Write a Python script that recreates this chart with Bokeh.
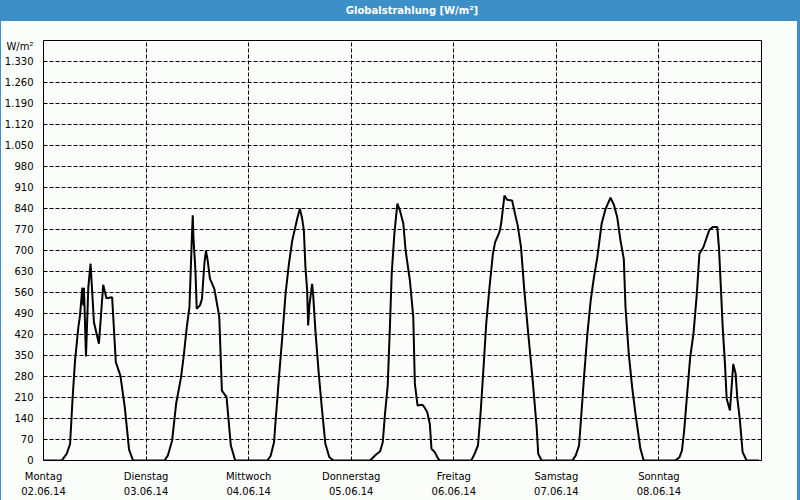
from bokeh.plotting import figure
from bokeh.models import FixedTicker, Range1d, Div
from bokeh.layouts import column, row
from bokeh.embed import file_html
from bokeh.resources import INLINE

# ---- data: hours since Monday 02.06.14 00:00 and global irradiance in W/m2 ----
mon_t = [0, 4.26, 5.42, 6.22, 6.82, 7.38, 8.15, 8.54, 9.08, 9.31, 9.47, 9.94, 10.48, 11.01, 11.24,
         11.80, 12.97, 13.97, 14.73, 16.06, 16.92, 17.99, 19.02, 20.02, 20.95]
mon_v = [0, 0, 22, 55, 211, 333, 444, 483, 576, 517, 576, 347, 576, 656, 600,
         461, 389, 586, 541, 544, 328, 283, 178, 36, 0]

tue_t = [28.33, 29.10, 30.10, 31.03, 32.19, 32.82, 33.52, 34.15, 34.75, 34.92, 35.08, 35.55, 35.85,
         36.62, 37.08, 37.64, 38.01, 38.41, 38.94, 39.97, 40.74, 41.13, 41.74, 42.83, 43.83, 44.86]
tue_v = [0, 17, 67, 189, 278, 350, 444, 511, 756, 817, 744, 633, 506,
         517, 539, 656, 700, 667, 606, 572, 511, 478, 233, 211, 50, 0]

wed_t = [52.38, 53.14, 53.94, 54.31, 55.10, 55.87, 56.64, 57.43, 58.20, 59.36, 59.99, 60.52, 60.92,
         61.29, 61.69, 61.92, 62.22, 62.46, 62.85, 63.08, 63.62, 64.41, 65.18, 65.95, 66.88, 67.90]
wed_v = [0, 15, 61, 133, 278, 411, 556, 656, 733, 806, 839, 806, 767,
         644, 567, 450, 517, 544, 589, 556, 433, 289, 167, 56, 11, 0]

thu_t = [76.42, 77.82, 78.75, 79.38, 79.91, 80.54, 81.08, 81.47, 82.10, 82.80, 83.40, 84.20, 84.73,
         85.73, 86.52, 86.89, 87.53, 88.62, 89.09, 89.79, 90.39, 90.78, 91.55, 92.34, 92.72]
thu_v = [0, 20, 30, 61, 156, 250, 456, 622, 756, 856, 833, 789, 700,
         600, 478, 256, 183, 186, 178, 161, 122, 39, 28, 6, 0]

fri_t = [100.10, 100.86, 101.66, 102.26, 102.82, 103.59, 104.36, 105.15, 105.68, 106.68, 107.08,
         107.85, 108.47, 109.64, 110.33, 110.96, 111.73, 112.50, 113.43, 114.46, 115.39, 115.76, 116.55]
fri_v = [0, 22, 50, 156, 278, 456, 578, 689, 728, 761, 789,
         883, 869, 867, 822, 783, 711, 567, 422, 267, 111, 22, 0]

sat_t = [123.77, 124.54, 125.31, 125.86, 126.47, 127.26, 128.03, 128.80, 129.59, 130.59, 131.52,
         132.68, 133.45, 134.24, 135.01, 135.78, 136.18, 136.94, 137.74, 138.51, 139.67, 140.44]
sat_v = [0, 17, 50, 156, 278, 422, 533, 611, 678, 789, 839,
         876, 853, 811, 733, 672, 511, 356, 244, 156, 39, 0]

sun_t = [147.82, 148.82, 149.38, 149.91, 150.54, 151.31, 152.08, 152.87, 153.47, 154.40, 155.19,
         155.80, 156.59, 157.66, 158.06, 158.45, 158.92, 159.45, 159.85, 160.62, 161.39, 161.95,
         162.32, 162.95, 163.58, 164.51, 167.44]
sun_v = [0, 11, 33, 100, 211, 344, 422, 556, 689, 711, 744,
         769, 778, 778, 706, 589, 444, 322, 206, 167, 322, 289,
         211, 133, 28, 0, 0]

day_names = ["Montag", "Dienstag", "Mittwoch", "Donnerstag", "Freitag", "Samstag", "Sonntag"]
day_dates = ["02.06.14", "03.06.14", "04.06.14", "05.06.14", "06.06.14", "07.06.14", "08.06.14"]
day_ticks = [0, 24, 48, 72, 96, 120, 144]
y_ticks = [0, 70, 140, 210, 280, 350, 420, 490, 560, 630, 700, 770, 840, 910, 980,
           1050, 1120, 1190, 1260, 1330]
y_tick_labels = ["0", "70", "140", "210", "280", "350", "420", "490", "560", "630", "700", "770",
                 "840", "910", "980", "1.050", "1.120", "1.190", "1.260", "1.330"]
unit_pos = 1380
unit_text = "W/m²"
title_text = "Globalstrahlung [W/m²]"

# ---- styling ----
BG = "#fbfdfb"
BLUE = "#3c8fc7"
FONT = "DejaVu Sans"

hours = mon_t + tue_t + wed_t + thu_t + fri_t + sat_t + sun_t
values = mon_v + tue_v + wed_v + thu_v + fri_v + sat_v + sun_v

header = Div(text=title_text, width=800, height=21,
             styles={"background-color": BLUE, "color": "white", "font-family": FONT,
                     "font-size": "10px", "font-weight": "bold", "text-align": "center",
                     "line-height": "21px", "padding-left": "24px", "box-sizing": "border-box",
                     "margin": "0"})
left_edge = Div(text="", width=1, height=480,
                styles={"background-color": BLUE, "margin": "0"})
right_edge = Div(text="", width=3, height=480,
                 styles={"background-color": BLUE, "margin": "0"})

p = figure(width=796, frame_height=420, x_range=Range1d(0, 168), y_range=Range1d(0, 1400),
           output_backend="svg", toolbar_location=None,
           min_border_left=39, min_border_right=36, min_border_top=19, min_border_bottom=40,
           background_fill_color=BG, border_fill_color=BG,
           outline_line_color="black", outline_line_width=1)

p.line(hours, values, line_color="black", line_width=2)

# axes
p.xaxis.ticker = FixedTicker(ticks=day_ticks)
p.xaxis.major_label_overrides = {t: f"{n}\n{d}" for t, n, d in zip(day_ticks, day_names, day_dates)}
p.yaxis.ticker = FixedTicker(ticks=y_ticks + [unit_pos])
overrides = {t: l for t, l in zip(y_ticks, y_tick_labels)}
overrides[unit_pos] = unit_text
p.yaxis.major_label_overrides = overrides
for ax in (p.xaxis, p.yaxis):
    ax.axis_line_color = None
    ax.major_tick_line_color = None
    ax.minor_tick_line_color = None
    ax.major_label_text_font = FONT
    ax.major_label_text_font_size = "10px"
    ax.major_label_text_color = "black"
p.yaxis.major_label_standoff = 4
p.xaxis.major_label_standoff = 4
p.xaxis.major_label_text_line_height = 1.45

# grid
p.xgrid.ticker = FixedTicker(ticks=day_ticks)
p.ygrid.ticker = FixedTicker(ticks=y_ticks)
for g in (p.xgrid, p.ygrid):
    g.grid_line_color = "black"
    g.grid_line_dash = "4 2"
    g.grid_line_width = 1
    g.grid_line_alpha = 1.0

layout = column(header, row(left_edge, p, right_edge, spacing=0), spacing=0)
open("out.html", "w").write(file_html(layout, INLINE))
